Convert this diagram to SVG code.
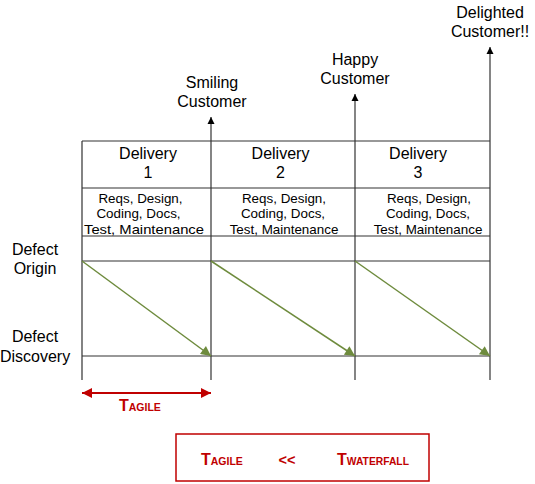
<svg xmlns="http://www.w3.org/2000/svg" width="535" height="484" viewBox="0 0 535 484">
<style>
.t{font-family:"Liberation Sans",Arial,sans-serif;fill:#000;text-anchor:middle}
.l{font-size:16px}
.s{font-size:13.4px}
.grid{stroke:#333;stroke-width:1.2;fill:none}
.g{stroke:#6E8B3D;stroke-width:1.5;fill:none}
.r{fill:#C00000;font-family:"Liberation Sans",Arial,sans-serif;font-weight:bold}
</style>
<defs>
<marker id="ab" viewBox="0 0 10 10" refX="10" refY="5" markerWidth="7" markerHeight="8" markerUnits="userSpaceOnUse" orient="auto"><path d="M0,0 L10,5 L0,10 z" fill="#000"/></marker>
<marker id="ag" viewBox="0 0 10 10" refX="10" refY="5" markerWidth="14" markerHeight="10" markerUnits="userSpaceOnUse" orient="auto"><path d="M0,0 L10,5 L0,10 z" fill="#6E8B3D"/></marker>
<marker id="ar" viewBox="0 0 10 10" refX="10" refY="5" markerWidth="14" markerHeight="10" markerUnits="userSpaceOnUse" orient="auto-start-reverse"><path d="M0,0 L10,5 L0,10 z" fill="#C00000"/></marker>
</defs>
<g id="connectors">
<path class="grid" d="M82,141 V380 M82,141 H490 M82,188 H490 M82,236 H490 M82,261 H490 M82,356 H490"/>
<line class="grid" x1="211" y1="380" x2="211" y2="117" marker-end="url(#ab)"/>
<line class="grid" x1="355" y1="380" x2="355" y2="94" marker-end="url(#ab)"/>
<line class="grid" x1="490" y1="380" x2="490" y2="47" marker-end="url(#ab)"/>
<line class="g" x1="82" y1="261" x2="211" y2="356" marker-end="url(#ag)"/>
<line class="g" x1="211" y1="261" x2="355" y2="356" marker-end="url(#ag)"/>
<line class="g" x1="355" y1="261" x2="490" y2="356" marker-end="url(#ag)"/>
<line x1="82" y1="393" x2="211" y2="393" stroke="#C00000" stroke-width="2" marker-start="url(#ar)" marker-end="url(#ar)"/>
</g>
<g id="delivery1">
<text class="t l" x="148" y="158.5">Delivery</text>
<text class="t l" x="148" y="177.5">1</text>
<text class="t s" x="140.5" y="203">Reqs, Design,</text>
<text class="t s" x="138.5" y="218">Coding, Docs,</text>
<text class="t s" x="144" y="233.5" textLength="120" lengthAdjust="spacingAndGlyphs">Test, Maintenance</text>
</g>
<g id="delivery2">
<text class="t l" x="280.5" y="158.5">Delivery</text>
<text class="t l" x="280.5" y="177.5">2</text>
<text class="t s" x="284" y="203">Reqs, Design,</text>
<text class="t s" x="283" y="218">Coding, Docs,</text>
<text class="t s" x="284" y="233.5">Test, Maintenance</text>
</g>
<g id="delivery3">
<text class="t l" x="418" y="158.5">Delivery</text>
<text class="t l" x="418" y="177.5">3</text>
<text class="t s" x="429" y="203">Reqs, Design,</text>
<text class="t s" x="428" y="218">Coding, Docs,</text>
<text class="t s" x="428" y="233.5">Test, Maintenance</text>
</g>
<g id="defect-origin">
<text class="t l" x="35" y="255">Defect</text>
<text class="t l" x="35" y="274">Origin</text>
</g>
<g id="defect-discovery">
<text class="t l" x="35" y="342">Defect</text>
<text class="t l" x="35" y="362">Discovery</text>
</g>
<g id="smiling">
<text class="t l" x="212" y="88">Smiling</text>
<text class="t l" x="212" y="107">Customer</text>
</g>
<g id="happy">
<text class="t l" x="355" y="65">Happy</text>
<text class="t l" x="355" y="84">Customer</text>
</g>
<g id="delighted">
<text class="t l" x="490" y="18">Delighted</text>
<text class="t l" x="490" y="37">Customer!!</text>
</g>
<g id="t-agile">
<text class="r" x="119" y="411"><tspan font-size="16">T</tspan><tspan font-size="10.5">AGILE</tspan></text>
</g>
<g id="comparison">
<rect x="176" y="434" width="253" height="47" fill="none" stroke="#C00000" stroke-width="1.5"/>
<text class="r" x="201" y="465"><tspan font-size="16">T</tspan><tspan font-size="10.5">AGILE</tspan></text>
<text class="r" x="287" y="465" font-size="14.5" text-anchor="middle">&lt;&lt;</text>
<text class="r" x="337" y="465"><tspan font-size="16">T</tspan><tspan font-size="10.3">WATERFALL</tspan></text>
</g>
</svg>
